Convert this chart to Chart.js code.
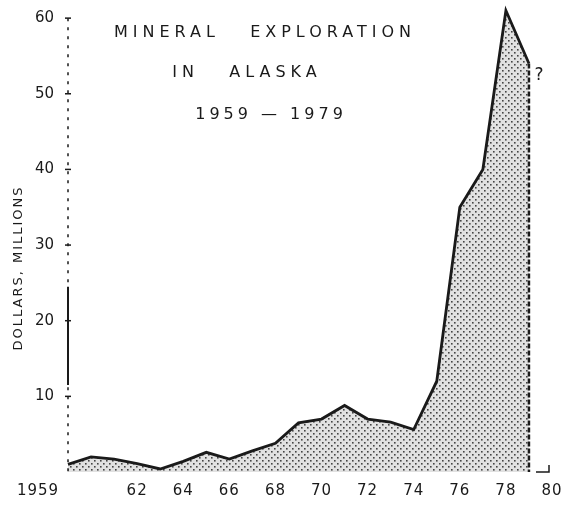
<!DOCTYPE html>
<html>
<head>
<meta charset="utf-8">
<script src="https://cdn.jsdelivr.net/npm/chart.js@4.4.1/dist/chart.umd.min.js"></script>
<style>
  html, body { margin: 0; padding: 0; background: #fff; }
  #wrap { width: 565px; height: 507px; }
</style>
</head>
<body>
<div id="wrap"><canvas id="exploreChart" width="565" height="507"></canvas></div>
<script>
// data (millions of dollars per year)
const years = [1959, 1960, 1961, 1962, 1963, 1964, 1965, 1966, 1967, 1968, 1969,
               1970, 1971, 1972, 1973, 1974, 1975, 1976, 1977, 1978, 1979];
const spending = [1.0, 2.0, 1.7, 1.1, 0.4, 1.4, 2.6, 1.7, 2.8, 3.8, 6.5,
                  7.0, 8.8, 7.0, 6.6, 5.6, 12, 35, 40, 61, 54];
const yTicks = [10, 20, 30, 40, 50, 60];
const xTickYears = [1959, 1962, 1964, 1966, 1968, 1970, 1972, 1974, 1976, 1978, 1980];
const xTickLabels = ['1959', '62', '64', '66', '68', '70', '72', '74', '76', '78', '80'];
const titleLines = ['MINERAL   EXPLORATION', 'IN   ALASKA', '1959 \u2014 1979'];
const yTitle = 'DOLLARS, MILLIONS';

const ink = '#1a1a1a';
const font = "'DejaVu Sans', sans-serif";

// stipple fill like the printed dot screen
function makeStipple() {
    const c = document.createElement('canvas');
    c.width = 6; c.height = 6;
    const g = c.getContext('2d');
    g.fillStyle = 'rgba(205,205,205,0.6)';
    g.fillRect(0, 0, 6, 6);
    g.fillStyle = '#444';
    g.fillRect(1, 1, 1.6, 1.6);
    g.fillRect(4, 4, 1.6, 1.6);
    return g.createPattern(c, 'repeat');
}

const lastYear = years[years.length - 1];
const lastValue = spending[spending.length - 1];

const decorations = {
    id: 'decorations',
    afterDraw(chart) {
        const ctx = chart.ctx;
        const xs = chart.scales.x;
        const ys = chart.scales.y;
        const axisX = ys.left + ys.width;
        ctx.save();
        ctx.fillStyle = ink;
        ctx.strokeStyle = ink;

        // broken y axis: dotted with one solid stretch
        ctx.lineWidth = 1.5;
        ctx.setLineDash([3, 6]);
        ctx.beginPath();
        ctx.moveTo(axisX, ys.getPixelForValue(60));
        ctx.lineTo(axisX, ys.getPixelForValue(0));
        ctx.stroke();
        ctx.setLineDash([]);
        ctx.lineWidth = 2;
        ctx.beginPath();
        ctx.moveTo(axisX, ys.getPixelForValue(24.5));
        ctx.lineTo(axisX, ys.getPixelForValue(11.5));
        ctx.stroke();

        // tick marks on the y axis
        ctx.lineWidth = 1.5;
        yTicks.forEach(v => {
            const py = ys.getPixelForValue(v);
            ctx.beginPath();
            ctx.moveTo(axisX - 3, py);
            ctx.lineTo(axisX + 3, py);
            ctx.stroke();
        });

        // title block inside the plot
        ctx.font = '16px ' + font;
        ctx.textAlign = 'center';
        ctx.textBaseline = 'middle';
        ctx.letterSpacing = '5px';
        ctx.fillText(titleLines[0], 265, 33);
        ctx.fillText(titleLines[1], 247, 73);
        ctx.letterSpacing = '4px';
        ctx.fillText(titleLines[2], 271, 115);

        // y axis title
        ctx.save();
        ctx.translate(19, 268);
        ctx.rotate(-Math.PI / 2);
        ctx.font = '13px ' + font;
        ctx.letterSpacing = '2px';
        ctx.fillText(yTitle, 0, 0);
        ctx.restore();

        // x tick labels
        ctx.letterSpacing = '1px';
        ctx.font = '15px ' + font;
        xTickYears.forEach((yr, i) => {
            let px = xs.getPixelForValue(yr);
            if (i === 0) px -= 30;
            ctx.fillText(xTickLabels[i], px, 491);
        });

        // question mark on the last (estimated) year
        ctx.letterSpacing = '0px';
        ctx.font = '17px ' + font;
        ctx.fillText('?', xs.getPixelForValue(lastYear) + 10, ys.getPixelForValue(lastValue) + 12);

        // right edge of the last year down to the base
        ctx.lineWidth = 2.5;
        ctx.setLineDash([5, 2]);
        ctx.beginPath();
        ctx.moveTo(xs.getPixelForValue(lastYear), ys.getPixelForValue(lastValue));
        ctx.lineTo(xs.getPixelForValue(lastYear), ys.getPixelForValue(0));
        ctx.stroke();
        ctx.setLineDash([]);

        // small corner mark at the end of the axis
        const ex = xs.getPixelForValue(xTickYears[xTickYears.length - 1]);
        const ey = ys.getPixelForValue(0);
        ctx.lineWidth = 1.5;
        ctx.beginPath();
        ctx.moveTo(ex - 16, ey);
        ctx.lineTo(ex - 3, ey);
        ctx.lineTo(ex - 3, ey - 7);
        ctx.stroke();
        ctx.restore();
    }
};

const ctx = document.getElementById('exploreChart').getContext('2d');
const exploreChart = new Chart(ctx, {
    type: 'line',
    data: {
        datasets: [{
            label: 'Mineral exploration',
            data: years.map((yr, i) => ({ x: yr, y: spending[i] })),
            borderColor: ink,
            borderWidth: 2.8,
            backgroundColor: makeStipple(),
            fill: 'origin',
            pointRadius: 0,
            tension: 0
        }]
    },
    options: {
        responsive: false,
        animation: false,
        clip: false,
        layout: { padding: { top: 3, right: 13, bottom: 0, left: 0 } },
        plugins: {
            legend: { display: false },
            tooltip: { enabled: false }
        },
        scales: {
            x: {
                type: 'linear',
                min: 1959,
                max: 1980,
                grid: { display: false },
                border: { display: false },
                ticks: { display: false },
                afterFit: (scale) => {
                    scale.height = 35;
                    scale.paddingLeft = 0;
                    scale.paddingRight = 0;
                }
            },
            y: {
                min: 0,
                max: 62,
                afterBuildTicks: (scale) => { scale.ticks = yTicks.map(v => ({ value: v })); },
                afterFit: (scale) => {
                    scale.width = 68;
                    scale.paddingTop = 0;
                    scale.paddingBottom = 0;
                },
                grid: { display: false },
                border: { display: false },
                ticks: {
                    color: ink,
                    padding: 6,
                    font: { family: 'DejaVu Sans', size: 15 }
                }
            }
        }
    },
    plugins: [decorations]
});
</script>
</body>
</html>
